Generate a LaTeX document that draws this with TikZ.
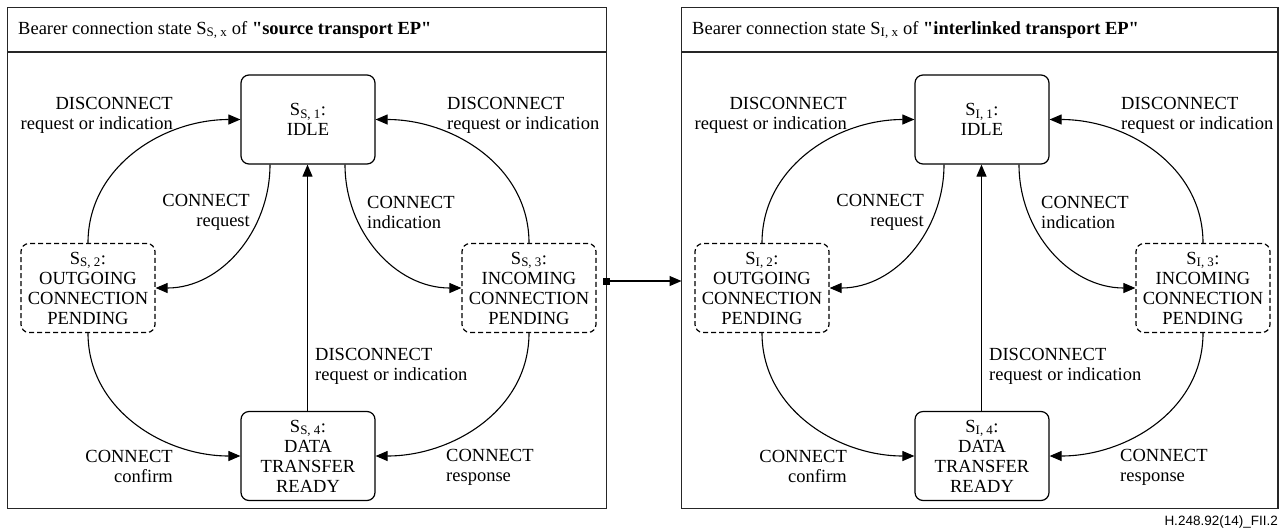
\documentclass[tikz,border=0pt]{standalone}
\usepackage{fontspec}
\setmainfont{Liberation Serif}[Ligatures=TeXOff]
\setsansfont{Liberation Serif}[Ligatures=TeXOff]
\newfontfamily\footfont{Liberation Sans}
\usetikzlibrary{arrows.meta}
\newcommand\fsz{\rmfamily\fontsize{18.5}{20}\selectfont}
\tikzset{
 st/.style={draw, rounded corners=8pt, line width=1.2pt, minimum width=134pt, minimum height=89pt, inner sep=0pt, align=center, font=\fsz},
 pend/.style={st, dash pattern=on 5pt off 3pt},
 lbl/.style={inner sep=0pt, font=\fsz},
 tr/.style={line width=1.1pt, -{Triangle[length=12pt,width=10pt]}},
 frame/.style={draw, line width=1.4pt, color=black!85}
}
\newcommand\statepanel[5]{%
\begin{scope}[shift={(#3,0)}]
\draw[frame] (7.5,7.5) rectangle (#5,508.5);
\draw[frame] (7.5,52) -- (#5,52);
\node[lbl, anchor=base west] (#1title) at (18,34) {Bearer connection state S\textsubscript{#2, x} of \textbf{"#4"}};
\node[st] (#1idle) at (308,119.5) {S\textsubscript{#2, 1}:\\IDLE};
\node[pend] (#1out) at (88,288) {S\textsubscript{#2, 2}:\\OUTGOING\\CONNECTION\\PENDING};
\node[pend] (#1inc) at (529,288) {S\textsubscript{#2, 3}:\\INCOMING\\CONNECTION\\PENDING};
\node[st] (#1data) at (308,456) {S\textsubscript{#2, 4}:\\DATA\\TRANSFER\\READY};
\draw[tr] (#1out.north) to[out=90,in=180] (#1idle.west);
\draw[tr] ([xshift=-38pt]#1idle.south) to[out=-90,in=0] (#1out.east);
\draw[tr] ([xshift=37pt]#1idle.south) to[out=-90,in=180] (#1inc.west);
\draw[tr] (#1inc.north) to[out=90,in=0] (#1idle.east);
\draw[tr] (#1out.south) to[out=-90,in=180] (#1data.west);
\draw[tr] (#1inc.south) to[out=-90,in=0] (#1data.east);
\draw[tr] ([xshift=-0.5pt]#1data.north) -- ([xshift=-0.5pt]#1idle.south);
\node[lbl, align=right, anchor=east] (#1la) at (173,115) {DISCONNECT\\request or indication};
\node[lbl, align=right, anchor=east] (#1lb) at (250,212) {CONNECT\\request};
\node[lbl, align=left, anchor=west] (#1lc) at (367,212) {CONNECT\\indication};
\node[lbl, align=left, anchor=west] (#1ld) at (447,115) {DISCONNECT\\request or indication};
\node[lbl, align=left, anchor=west] (#1le) at (315,366) {DISCONNECT\\request or indication};
\node[lbl, align=right, anchor=east] (#1lf) at (173,466) {CONNECT\\confirm};
\node[lbl, align=left, anchor=west] (#1lg) at (446,467) {CONNECT\\response};
\end{scope}}
\begin{document}
\begin{tikzpicture}[x=1pt,y=-1pt]
\useasboundingbox (0,0) rectangle (1282,531);
\statepanel{s}{S}{0}{source transport EP}{606.5}
\statepanel{i}{I}{674}{interlinked transport EP}{604}
\coordinate (lk) at (606.5,281);
\coordinate (rk) at (681.5,281);
\node[fill, minimum size=7pt, inner sep=0pt] (sq) at (lk) {};
\draw[tr] (sq.center) -- (rk);
\node[anchor=base east, inner sep=0pt, font=\footfont\fontsize{13.5}{16}\selectfont] (foot) at (1278,525) {H.248.92(14)\_FII.2};
\end{tikzpicture}
\end{document}
